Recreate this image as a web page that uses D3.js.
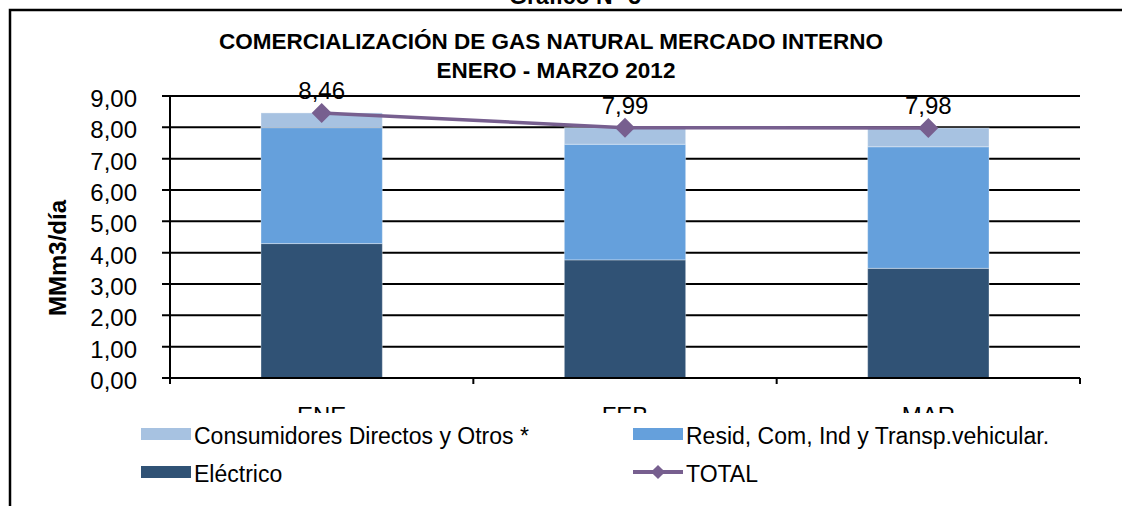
<!DOCTYPE html>
<html>
<head>
<meta charset="utf-8">
<script src="https://cdn.jsdelivr.net/npm/d3@7"></script>
<style>
  html, body { margin: 0; padding: 0; background: #fff; }
  svg { display: block; font-family: "Liberation Sans", Arial, sans-serif; }
</style>
</head>
<body>
<div id="chart"></div>
<script>
// months and series values (MMm3/día)
var MONTHS = ["ENE", "FEB", "MAR"];
var ELECTRICO = [4.29, 3.77, 3.50];
var RESID = [3.70, 3.69, 3.88];
var CONSUMIDORES = [0.47, 0.53, 0.60];
var TOTAL = [8.46, 7.99, 7.98];
var TOTAL_LABELS = ["8,46", "7,99", "7,98"];
var Y_TICKS = [0, 1, 2, 3, 4, 5, 6, 7, 8, 9];

var W = 1122, H = 506;
var COLORS = { cons: "#A7C2E1", resid: "#65A0DC", elec: "#305275", total: "#775F8F" };

var svg = d3.select("#chart").append("svg")
  .attr("width", W).attr("height", H);

// frame + header
svg.append("text")
  .attr("x", 575).attr("y", 4)
  .attr("text-anchor", "middle")
  .attr("font-size", "23px").attr("font-weight", "bold")
  .text("Gráfico N° 5");

svg.append("path")
  .attr("d", "M10," + H + "V10H" + W)
  .attr("fill", "none").attr("stroke", "#000").attr("stroke-width", 2.5);

// title
var title = svg.append("g").attr("font-weight", "bold").attr("font-size", "22.5px")
  .attr("text-anchor", "middle");
title.append("text").attr("x", 551).attr("y", 49).text("COMERCIALIZACIÓN DE GAS NATURAL MERCADO INTERNO");
title.append("text").attr("x", 556).attr("y", 78).text("ENERO - MARZO 2012");

// scales
var x = d3.scaleBand().domain(MONTHS).range([170, 1080]).paddingInner(0.6).paddingOuter(0.3);
var y = d3.scaleLinear().domain([0, 9]).range([378, 96]);

// gridlines with tick stubs
svg.append("g").selectAll("line")
  .data(Y_TICKS.slice(1))
  .enter().append("line")
  .attr("x1", 162).attr("x2", 1080)
  .attr("y1", function(d) { return y(d); }).attr("y2", function(d) { return y(d); })
  .attr("stroke", "#000").attr("stroke-width", 2);

// y tick labels
svg.append("g").attr("font-size", "24px").attr("text-anchor", "end")
  .selectAll("text").data(Y_TICKS).enter().append("text")
  .attr("x", 137)
  .attr("y", function(d) { return y(d) + 11; })
  .text(function(d) { return d3.format(".2f")(d).replace(".", ","); });

// y axis title
svg.append("text")
  .attr("transform", "translate(66,258) rotate(-90)")
  .attr("text-anchor", "middle")
  .attr("font-size", "24px").attr("font-weight", "bold")
  .text("MMm3/día");

// stacked bars
var rows = MONTHS.map(function(m, i) {
  return { month: m, elec: ELECTRICO[i], resid: RESID[i], cons: CONSUMIDORES[i] };
});
var stack = d3.stack().keys(["elec", "resid", "cons"]);
var layers = stack(rows);

svg.append("g").selectAll("g")
  .data(layers).enter().append("g")
  .attr("fill", function(d) { return COLORS[d.key]; })
  .selectAll("rect").data(function(d) { return d; })
  .enter().append("rect")
  .attr("x", function(d) { return x(d.data.month); })
  .attr("width", x.bandwidth())
  .attr("y", function(d) { return y(d[1]); })
  .attr("height", function(d) { return y(d[0]) - y(d[1]); })
  .attr("stroke", "rgba(255,255,255,0.35)").attr("stroke-width", 1);

// axes lines
svg.append("line").attr("x1", 170).attr("x2", 170).attr("y1", 96).attr("y2", 384)
  .attr("stroke", "#000").attr("stroke-width", 2);
svg.append("line").attr("x1", 162).attr("x2", 1080).attr("y1", 378).attr("y2", 378)
  .attr("stroke", "#000").attr("stroke-width", 2);
var bounds = [170].concat(MONTHS.map(function(m) { return x(m) - x.step() * x.paddingOuter() + x.step(); }));
svg.append("g").selectAll("line").data(bounds).enter().append("line")
  .attr("x1", function(d) { return d; }).attr("x2", function(d) { return d; })
  .attr("y1", 378).attr("y2", 384)
  .attr("stroke", "#000").attr("stroke-width", 2);

// category labels (partly hidden under legend)
svg.append("g").attr("font-size", "24px").attr("text-anchor", "middle")
  .selectAll("text").data(MONTHS).enter().append("text")
  .attr("x", function(d) { return x(d) + x.bandwidth() / 2; })
  .attr("y", 424)
  .text(function(d) { return d; });

// total line
var cx = function(i) { return x(MONTHS[i]) + x.bandwidth() / 2; };
var line = d3.line()
  .x(function(d, i) { return cx(i); })
  .y(function(d) { return y(d); });
svg.append("path").datum(TOTAL)
  .attr("d", line)
  .attr("fill", "none").attr("stroke", COLORS.total).attr("stroke-width", 3.5);

var diamond = d3.symbol().type(d3.symbolSquare).size(200);
svg.append("g").selectAll("path").data(TOTAL).enter().append("path")
  .attr("d", diamond)
  .attr("transform", function(d, i) { return "translate(" + cx(i) + "," + y(d) + ") rotate(45)"; })
  .attr("fill", COLORS.total);

svg.append("g").attr("font-size", "24px").attr("text-anchor", "middle")
  .selectAll("text").data(TOTAL).enter().append("text")
  .attr("x", function(d, i) { return cx(i); })
  .attr("y", function(d) { return y(d) - 14; })
  .text(function(d, i) { return TOTAL_LABELS[i]; });

// legend
var legend = svg.append("g");
legend.append("rect").attr("x", 12).attr("y", 413).attr("width", W - 12).attr("height", H - 413)
  .attr("fill", "#fff");

var LEGEND = [
  { label: "Consumidores Directos y Otros *", key: "cons", col: 0, row: 0 },
  { label: "Resid, Com, Ind y Transp.vehicular.", key: "resid", col: 1, row: 0 },
  { label: "Eléctrico", key: "elec", col: 0, row: 1 },
  { label: "TOTAL", key: "total", col: 1, row: 1 }
];
var colX = [141, 633], rowY = [434, 472];

LEGEND.forEach(function(item) {
  var lx = colX[item.col], ly = rowY[item.row];
  if (item.key === "total") {
    legend.append("line").attr("x1", lx).attr("x2", lx + 50).attr("y1", ly).attr("y2", ly)
      .attr("stroke", COLORS.total).attr("stroke-width", 4);
    legend.append("path").attr("d", d3.symbol().type(d3.symbolSquare).size(100))
      .attr("transform", "translate(" + (lx + 25) + "," + ly + ") rotate(45)")
      .attr("fill", COLORS.total);
  } else {
    legend.append("rect").attr("x", lx).attr("y", ly - 6).attr("width", 50).attr("height", 12)
      .attr("fill", COLORS[item.key]);
  }
  legend.append("text").attr("x", lx + 53).attr("y", ly + 10)
    .attr("font-size", "23px")
    .text(item.label);
});
</script>
</body>
</html>
